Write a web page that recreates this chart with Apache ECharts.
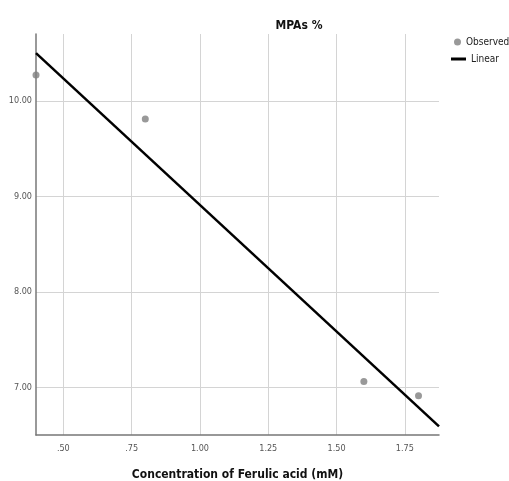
<html>
<head>
<meta charset="UTF-8">
<title>MPAs %</title>
<script src="https://cdn.jsdelivr.net/npm/echarts@6/dist/echarts.min.js"></script>
<style>
    body{ margin:0; background:#fff; }
    #main{ width:509px; height:481px; }
</style>
</head>
<body>
<div id="main"></div>
<script>
// data
var concentration = [0.40, 0.80, 1.60, 1.80];
var mpas = [10.27, 9.81, 7.06, 6.91];
var linearX = [0.40, 1.875];
var linearY = [10.50, 6.59];
var xTicks = [0.50, 0.75, 1.00, 1.25, 1.50, 1.75];
var yTicks = [7, 8, 9, 10];

var font = '"DejaVu Sans Condensed", "Liberation Sans Narrow", sans-serif';

function fmt(v) {
    var s = Number(v).toFixed(2);
    return s.indexOf('0.') === 0 ? s.slice(1) : s;
}

var observed = concentration.map(function (x, i) { return [x, mpas[i]]; });
var linear = linearX.map(function (x, i) { return [x, linearY[i]]; });

var myChart = echarts.init(document.getElementById('main'));

var option = {
    animation: false,
    backgroundColor: '#fff',
    title: {
        text: 'MPAs %',
        left: 294,
        textAlign: 'center',
        top: 15,
        textStyle: { fontFamily: font, fontSize: 12, fontWeight: 'bold', color: '#111' }
    },
    legend: [{
        data: [{ name: 'Observed', icon: 'circle' }],
        left: 449, top: 32,
        itemWidth: 7, itemHeight: 7,
        textStyle: { fontFamily: font, fontSize: 10, color: '#222' }
    }, {
        data: [{ name: 'Linear', icon: 'rect' }],
        left: 446, top: 49,
        itemWidth: 15, itemHeight: 3,
        textStyle: { fontFamily: font, fontSize: 10, color: '#222' }
    }],
    grid: { left: 36, right: 70, top: 34, bottom: 46, containLabel: false, outerBoundsMode: 'none' },
    xAxis: {
        type: 'value',
        min: 0.4,
        max: 1.875,
        name: 'Concentration of Ferulic acid (mM)',
        nameLocation: 'middle',
        nameGap: 34,
        nameTextStyle: { fontFamily: font, fontSize: 12, fontWeight: 'bold', color: '#111' },
        axisLine: { show: true, lineStyle: { color: '#777', width: 1.5 } },
        axisTick: { show: false, customValues: xTicks },
        axisLabel: { customValues: xTicks, formatter: fmt, fontFamily: font, fontSize: 9, color: '#555', margin: 9 },
        splitLine: { show: true, lineStyle: { color: '#d4d4d4', width: 1 } }
    },
    yAxis: {
        type: 'value',
        min: 6.5,
        max: 10.7,
        axisLine: { show: true, lineStyle: { color: '#777', width: 1.5 } },
        axisTick: { show: false, customValues: yTicks },
        axisLabel: { customValues: yTicks, formatter: fmt, fontFamily: font, fontSize: 9, color: '#555', margin: 4 },
        splitLine: { show: true, lineStyle: { color: '#d4d4d4', width: 1 } }
    },
    series: [{
        name: 'Observed',
        type: 'scatter',
        data: observed,
        symbolSize: 7,
        itemStyle: { color: '#808080' },
        clip: false
    }, {
        name: 'Linear',
        type: 'line',
        data: linear,
        showSymbol: false,
        lineStyle: { color: '#000', width: 2.5 },
        itemStyle: { color: '#000' }
    }]
};

myChart.setOption(option);
</script>
</body>
</html>
